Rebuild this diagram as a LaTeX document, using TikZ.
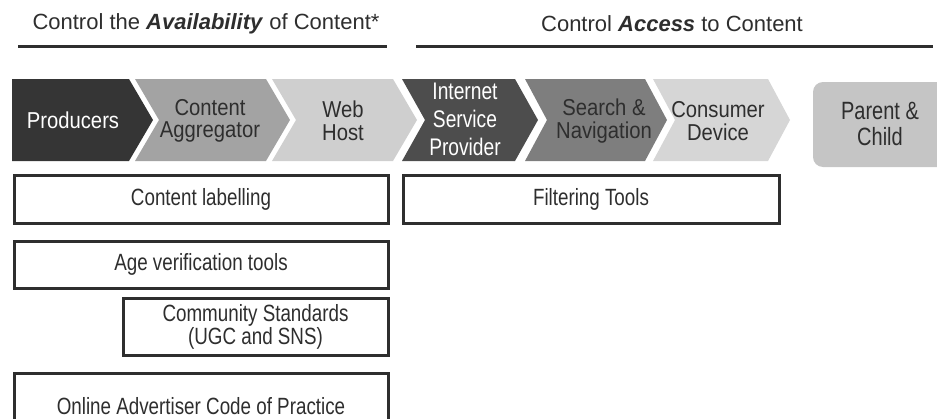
\documentclass[tikz,border=0pt]{standalone}
\usepackage{fontspec}
\setmainfont{Liberation Sans}
\newfontfamily\nf{Liberation Sans}[FakeStretch=0.8]
\newfontfamily\cf{Liberation Sans}[FakeStretch=0.88]
\definecolor{ink}{HTML}{2E2E2E}
\definecolor{cProd}{HTML}{353535}
\definecolor{cAgg}{HTML}{A3A3A3}
\definecolor{cWeb}{HTML}{CFCFCF}
\definecolor{cIsp}{HTML}{4D4D4D}
\definecolor{cSrch}{HTML}{7E7E7E}
\definecolor{cCons}{HTML}{D6D6D6}
\definecolor{cPar}{HTML}{C5C5C5}
\tikzset{
  hdr/.style={inner sep=0pt, text=ink, font=\fontsize{22}{26}\selectfont},
  hline/.style={draw=ink, line width=3pt},
  chtext/.style={inner sep=0pt, align=center, font=\cf\fontsize{23}{22.5}\selectfont},
  boxnode/.style={draw=ink, line width=3pt, inner sep=0pt, align=center, text=ink,
                  font=\nf\fontsize{23.5}{21.5}\selectfont},
}
\begin{document}
\begin{tikzpicture}[x=1pt,y=-1pt]
\useasboundingbox (0,0) rectangle (937,418);
\clip (0,0) rectangle (937,418);
% headers
\node[hdr] (h1) at (206,24) {Control the \textbf{\textit{Availability}} of Content*};
\node[hdr] (h2) at (672,24) {Control \textbf{\textit{Access}} to Content};
\draw[hline] (18,46.5) -- (387,46.5);
\draw[hline] (416,46.5) -- (933,46.5);
% chevrons
\fill[cProd] (12,79) -- (129,79) -- (153,120) -- (129,161) -- (12,161) -- cycle;
\fill[cAgg] (135,79) -- (266,79) -- (290,120) -- (266,161) -- (135,161) -- (159,120) -- cycle;
\fill[cWeb] (272,79) -- (393,79) -- (417,120) -- (393,161) -- (272,161) -- (296,120) -- cycle;
\fill[cIsp] (402,79) -- (515,79) -- (538,120) -- (515,161) -- (402,161) -- (425,120) -- cycle;
\fill[cSrch] (525,79) -- (645,79) -- (667,120) -- (645,161) -- (525,161) -- (547,120) -- cycle;
\fill[cCons] (653,79) -- (768,79) -- (790,120) -- (768,161) -- (653,161) -- (675,120) -- cycle;
\fill[cPar, rounded corners=10pt] (813,82) rectangle (950,167);
\node[chtext, text=white] (prod) at (73,120) {Producers};
\node[chtext, text=ink] (agg) at (210,121) {Content\\Aggregator};
\node[chtext, text=ink] (web) at (343,121) {Web\\Host};
\node[chtext, text=white, font=\nf\fontsize{24}{28}\selectfont] (isp) at (465,119) {Internet\\Service\\Provider};
\node[chtext, text=ink] (srch) at (604,121) {Search \&\\Navigation};
\node[chtext, text=ink] (cons) at (718,121) {Consumer\\Device};
\node[chtext, text=ink, font=\nf\fontsize{25}{26}\selectfont] (par) at (880,124) {Parent \&\\Child};
% boxes
\node[boxnode, minimum width=374pt, minimum height=48pt] (lab) at (201,199) {Content labelling};
\node[boxnode, minimum width=376pt, minimum height=48pt] (filt) at (591,199) {Filtering Tools};
\node[boxnode, minimum width=374pt, minimum height=47pt] (age) at (201,264.5) {Age verification tools};
\node[boxnode, minimum width=265pt, minimum height=57pt] (comm) at (255.5,326.5) {Community Standards\\(UGC and SNS)};
\node[boxnode, minimum width=374pt, minimum height=66pt] (adv) at (201,406) {Online Advertiser Code of Practice};
\end{tikzpicture}
\end{document}
